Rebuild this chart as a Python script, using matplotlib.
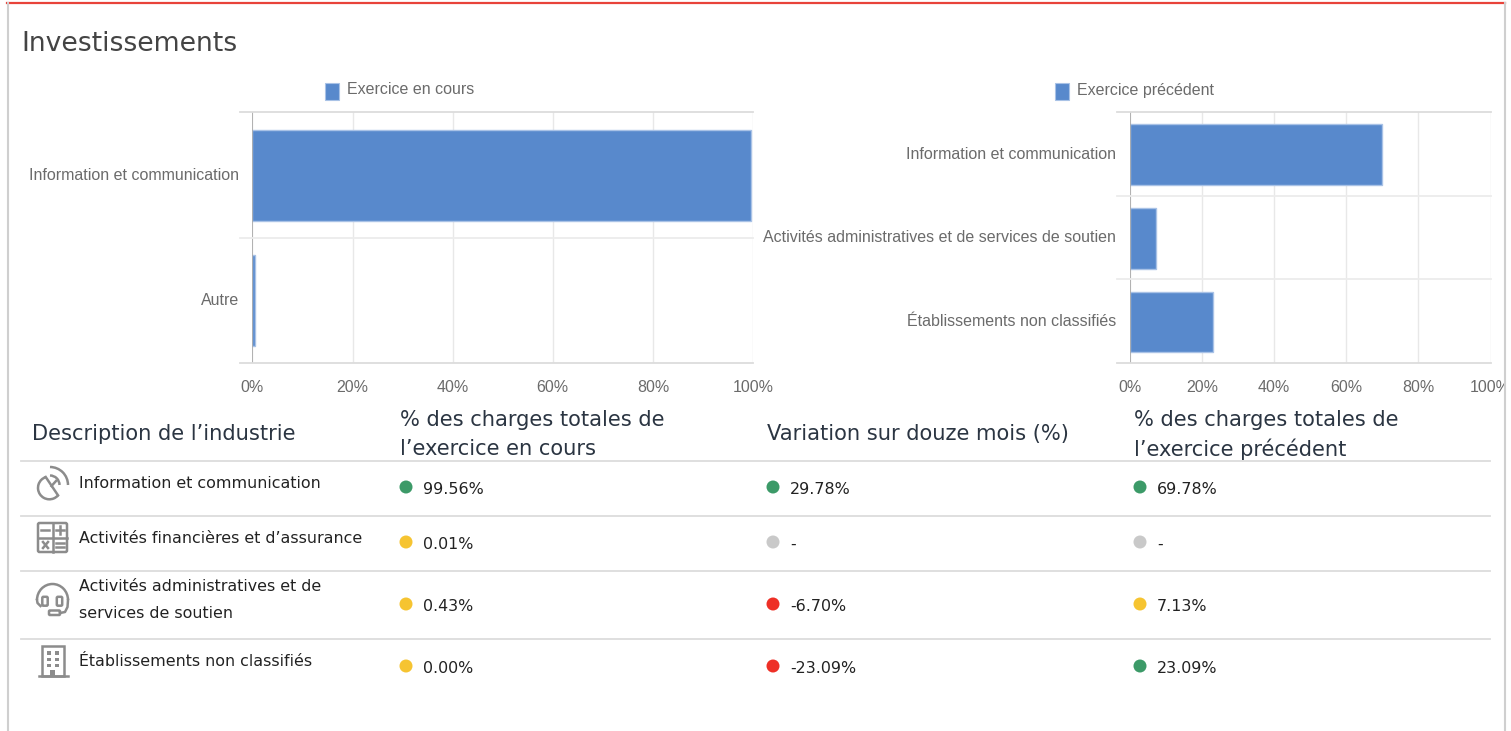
import numpy as np
import matplotlib
matplotlib.use("Agg")
import matplotlib.pyplot as plt
from matplotlib.patches import Rectangle, Circle, Arc, FancyBboxPatch

W, H = 1511, 731
title = "Investissements"
cur_legend = "Exercice en cours"
cur_cats = ["Information et communication", "Autre"]
cur_vals = [99.56, 0.44]
prev_legend = "Exercice précédent"
prev_cats = ["Information et communication", "Activités administratives et de services de soutien", "Établissements non classifiés"]
prev_vals = [69.78, 7.13, 23.09]
x_ticks = [0, 20, 40, 60, 80, 100]
headers = ["Description de l’industrie", "% des charges totales de\nl’exercice en cours",
           "Variation sur douze mois (%)", "% des charges totales de\nl’exercice précédent"]
rows = ["Information et communication", "Activités financières et d’assurance",
        "Activités administratives et de\nservices de soutien", "Établissements non classifiés"]
col_current = ["99.56%", "0.01%", "0.43%", "0.00%"]
col_change = ["29.78%", "-", "-6.70%", "-23.09%"]
col_previous = ["69.78%", "-", "7.13%", "23.09%"]
dot_current = ["g", "y", "y", "y"]
dot_change = ["g", "n", "r", "r"]
dot_previous = ["g", "n", "y", "g"]

BAR = "#5889cc"
EDGE = "#a9c2e6"
TXT = "#6b6b6b"
DOT = {"g": "#3c9a68", "y": "#f6c431", "r": "#ee2f26", "n": "#c9c9c9"}
SANS = ["Liberation Sans"]
PT = 0.72
CHART_FS = 16 * PT

fig = plt.figure(figsize=(W / 100, H / 100), dpi=100, facecolor="white")
ov = fig.add_axes([0, 0, 1, 1], zorder=3)
ov.set_xlim(0, W); ov.set_ylim(H, 0); ov.axis("off"); ov.patch.set_alpha(0)


def chart(x0, x1, y0, y1, cats, vals, label, lx, ly, pad):
    ax = fig.add_axes([x0 / W, 1 - y1 / H, (x1 - x0) / W, (y1 - y0) / H], zorder=1)
    n = len(cats)
    row_px = (y1 - y0) / n
    ax.barh(np.arange(n) + 0.7 / row_px, vals, height=0.725, color=BAR, edgecolor=EDGE, linewidth=1.0, zorder=3)
    ax.set_xlim(0, 100); ax.set_ylim(n - 0.5, -0.5)
    ax.set_xticks(x_ticks)
    ax.set_xticklabels([f"{t}%" for t in x_ticks], family=SANS, fontsize=CHART_FS, color=TXT)
    ax.set_yticks(np.arange(n) - 1.2 / row_px)
    ax.set_yticklabels(cats, family=SANS, fontsize=CHART_FS, color=TXT)
    ax.tick_params(axis="both", length=0)
    ax.tick_params(axis="x", pad=12)
    ax.tick_params(axis="y", pad=pad)
    ax.grid(axis="x", color="#e8e8e8", lw=1, zorder=0)
    for s in ax.spines.values():
        s.set_visible(False)
    ax.axvline(0, color="#a8a8a8", lw=1.2, zorder=4)
    for k in range(n + 1):
        col = "#dcdcdc" if k in (0, n) else "#ececec"
        ov.plot([x0 - 13, x1], [y0 + (y1 - y0) * k / n] * 2, color=col, lw=1.3, zorder=0)
    ov.add_patch(Rectangle((lx, ly), 14, 17, fc=BAR, ec=EDGE, lw=0.8))
    ov.text(lx + 22, ly + 7, label, family=SANS, fontsize=CHART_FS, color=TXT, va="center")


chart(252.5, 753, 112, 363, cur_cats, cur_vals, cur_legend, 325, 83, 9.5)
chart(1130, 1490.5, 112, 363, prev_cats, prev_vals, prev_legend, 1055, 83, 10)

# page frame (clips the last tick label like the original panel)
ov.add_patch(Rectangle((1505, 0), W - 1505, H, fc="white", ec="none", zorder=5))
ov.plot([7, 1505], [3, 3], color="#e8433a", lw=1.6, zorder=6)
ov.plot([7.5, 7.5], [3, H], color="#cfcfcf", lw=1.5, zorder=6)
ov.plot([1504.5, 1504.5], [3, H], color="#cfcfcf", lw=1.5, zorder=6)
ov.text(21, 44, title, fontsize=19.2, color="#444444", va="center")

# table
HC = "#2b3542"
HFS = 15.1
hx = [32, 400, 767, 1134]
for x, h in zip(hx, headers):
    if "\n" in h:
        a, b = h.split("\n")
        ov.text(x, 418, a, fontsize=HFS, color=HC, va="center_baseline")
        ov.text(x, 447, b, fontsize=HFS, color=HC, va="center_baseline")
    else:
        ov.text(x, 432, h, fontsize=HFS, color=HC, va="center_baseline")
for y in [461, 516, 571, 639]:
    ov.plot([21, 1490], [y, y], color="#dcdcdc", lw=1.3)

RFS = 11.4
row_text_y = [482, 537, None, 660]
row_val_y = [488, 543, 605, 667]
row_dot_y = [487, 542, 604, 666]
for r, label in enumerate(rows):
    if "\n" in label:
        a, b = label.split("\n")
        ov.text(79, 585, a, fontsize=RFS, color="#222222", va="center_baseline")
        ov.text(79, 612, b, fontsize=RFS, color="#222222", va="center_baseline")
    else:
        ov.text(79, row_text_y[r], label, fontsize=RFS, color="#222222", va="center_baseline")
    for dx, vals_, dots in ((406, col_current, dot_current), (773, col_change, dot_change), (1140, col_previous, dot_previous)):
        ov.add_patch(Circle((dx, row_dot_y[r]), 6.5, fc=DOT[dots[r]], ec="none"))
        ov.text(dx + 17, row_val_y[r], vals_[r], fontsize=RFS, color="#222222", va="center_baseline")

# icons
IC = "#8c8c8c"
lw = 1.8
# satellite dish
ov.add_patch(Arc((49.4, 487.9), 22.8, 22.8, theta1=41, theta2=251, ec=IC, lw=lw))
ov.plot([45.7, 58], [477, 495.3], color=IC, lw=lw)
ov.plot([51.5, 56], [486, 481], color=IC, lw=lw)
ov.add_patch(Arc((50, 485), 19, 19, theta1=-90, theta2=0, ec=IC, lw=lw))
ov.add_patch(Arc((50, 485), 36, 36, theta1=-90, theta2=0, ec=IC, lw=lw))
# calculator
ov.add_patch(FancyBboxPatch((38, 523), 29, 29, boxstyle="round,pad=0,rounding_size=1.5", fc="none", ec=IC, lw=lw))
ov.plot([38, 67], [537.5, 537.5], color=IC, lw=lw)
ov.plot([52.5, 52.5], [523, 552], color=IC, lw=lw)
ov.plot([41, 49], [530, 530], color=IC, lw=lw)
ov.plot([56, 64], [530, 530], color=IC, lw=lw); ov.plot([60, 60], [526, 534], color=IC, lw=lw)
ov.plot([43, 48], [542, 548], color=IC, lw=lw); ov.plot([48, 43], [542, 548], color=IC, lw=lw)
ov.plot([56, 64], [543, 543], color=IC, lw=lw); ov.plot([56, 64], [547, 547], color=IC, lw=lw)
# headset
ov.add_patch(Arc((52.5, 600), 31, 32, theta1=180, theta2=360, ec=IC, lw=lw))
ov.plot([37, 37.5, 40.5], [600, 603, 606], color=IC, lw=lw)
ov.add_patch(FancyBboxPatch((43.5, 598), 3, 6.5, boxstyle="round,pad=1.2", fc="none", ec=IC, lw=lw))
ov.add_patch(FancyBboxPatch((58, 598), 3, 6.5, boxstyle="round,pad=1.2", fc="none", ec=IC, lw=lw))
ov.plot([68, 67.5, 65, 60], [600, 607, 612, 613], color=IC, lw=lw)
ov.add_patch(FancyBboxPatch((50, 611.5), 9, 2.5, boxstyle="round,pad=1", fc="none", ec=IC, lw=lw))
# building
ov.add_patch(Rectangle((41.5, 645.5), 22.5, 30, fc="none", ec=IC, lw=lw))
ov.plot([38.5, 67.5], [676, 676], color=IC, lw=lw)
for wx in (47, 55):
    for wy in (651, 657.5, 663.5):
        ov.add_patch(Rectangle((wx, wy), 3.5, 3.5, fc=IC, ec="none"))
ov.add_patch(Rectangle((50, 670), 5, 6, fc=IC, ec="none"))

fig.savefig("out.png", dpi=100, facecolor="white")
